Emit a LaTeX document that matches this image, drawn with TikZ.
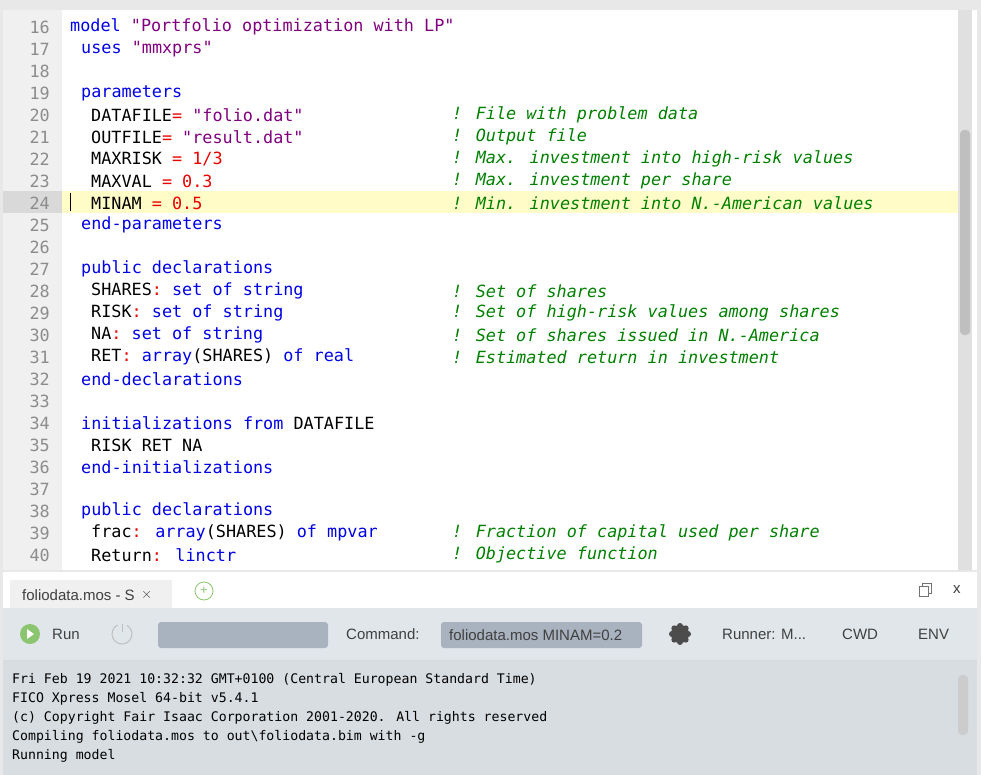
\documentclass[tikz,border=0pt]{standalone}
\usepackage{fontspec}
\setmainfont{Liberation Sans}
\newfontfamily\codefont{DejaVu Sans Mono}
\usetikzlibrary{positioning}
\definecolor{kwblue}{RGB}{0,0,230}
\definecolor{strpurple}{RGB}{128,0,128}
\definecolor{numred}{RGB}{235,0,0}
\definecolor{cmgreen}{RGB}{0,128,0}
\definecolor{guttergray}{RGB}{240,240,240}
\definecolor{barblue}{RGB}{225,230,234}
\definecolor{boxgray}{RGB}{168,179,191}
\definecolor{rungreen}{RGB}{140,197,111}
\newcommand{\kw}[1]{\textcolor{kwblue}{#1}}
\newcommand{\str}[1]{\textcolor{strpurple}{#1}}
\newcommand{\nm}[1]{\textcolor{numred}{#1}}
\newcommand{\cm}[1]{\textcolor{cmgreen}{\itshape #1}}
\tikzset{
	codeline/.style = {anchor=west, inner sep=0pt, yshift=-2pt, font=\codefont\fontsize{16.8}{18}\selectfont},
	lnum/.style = {anchor=east, inner sep=0pt, yshift=-2pt, text=black!45, font=\codefont\fontsize{16.8}{18}\selectfont},
	conline/.style = {anchor=west, inner sep=0pt, font=\codefont\fontsize{13.2}{15}\selectfont},
	uitext/.style = {anchor=west, inner sep=0pt, font=\fontsize{15}{17}\selectfont, text=black!75}
}
\begin{document}
\begin{tikzpicture}[x=1pt,y=-1pt]
	\useasboundingbox (0,0) rectangle (981,775);
	% editor background
	\fill [black!9] (0,0) rectangle (981,775);
	\fill [guttergray] (3,10) rectangle (62,570);
	\fill [white] (62,10) rectangle (977,570);
	\fill [yellow!22] (62,191) rectangle (958,213);
	\fill [black!15] (3,191) rectangle (62,213);
	\draw [line width=1pt] (70,193) -- (70,211);
	\fill [black!12] (958,10) rectangle (972,570);
	\fill [black!25, rounded corners=4pt] (960,130) rectangle (970,335);
	
	% line numbers
	\foreach \n in {16,...,40}
		\node [lnum] (n\n) at (50,{25+(\n-16)*22}) {\n};
	
	% code
	\node [codeline] (l16) at (70,25) {\kw{model} \str{"Portfolio optimization with LP"}};
	\node [codeline] (l17) at (81,47) {\kw{uses} \str{"mmxprs"}};
	\node [codeline] (l19) at (81,91) {\kw{parameters}};
	\node [codeline] (l20) at (91,113) {DATAFILE\nm{=} \str{"folio.dat"}};
	\node [codeline] (l21) at (91,135) {OUTFILE\nm{=} \str{"result.dat"}};
	\node [codeline] (l22) at (91,157) {MAXRISK \nm{= 1/3}};
	\node [codeline] (l23) at (91,179) {MAXVAL \nm{= 0.3}};
	\node [codeline] (l24) at (91,201) {MINAM \nm{= 0.5}};
	\node [codeline] (l25) at (81,223) {\kw{end-parameters}};
	\node [codeline] (l27) at (81,267) {\kw{public declarations}};
	\node [codeline] (l28) at (91,289) {SHARES\nm{:} \kw{set of string}};
	\node [codeline] (l29) at (91,311) {RISK\nm{:} \kw{set of string}};
	\node [codeline] (l30) at (91,333) {NA\nm{:} \kw{set of string}};
	\node [codeline] (l31) at (91,355) {RET\nm{:} \kw{array}(SHARES) \kw{of real}};
	\node [codeline] (l32) at (81,377) {\kw{end-declarations}};
	\node [codeline] (l34) at (81,421) {\kw{initializations from} DATAFILE};
	\node [codeline] (l35) at (91,443) {RISK RET NA};
	\node [codeline] (l36) at (81,465) {\kw{end-initializations}};
	\node [codeline] (l38) at (81,509) {\kw{public declarations}};
	\node [codeline] (l39) at (91,531) {frac\nm{:} \kw{array}(SHARES) \kw{of mpvar}};
	\node [codeline] (l40) at (91,553) {Return\nm{:} \kw{linctr}};
	
	% comments
	\node [codeline] (c20) at (452,113) {\cm{! File with problem data}};
	\node [codeline] (c21) at (452,135) {\cm{! Output file}};
	\node [codeline] (c22) at (452,157) {\cm{! Max. investment into high-risk values}};
	\node [codeline] (c23) at (452,179) {\cm{! Max. investment per share}};
	\node [codeline] (c24) at (452,201) {\cm{! Min. investment into N.-American values}};
	\node [codeline] (c28) at (452,289) {\cm{! Set of shares}};
	\node [codeline] (c29) at (452,311) {\cm{! Set of high-risk values among shares}};
	\node [codeline] (c30) at (452,333) {\cm{! Set of shares issued in N.-America}};
	\node [codeline] (c31) at (452,355) {\cm{! Estimated return in investment}};
	\node [codeline] (c39) at (452,531) {\cm{! Fraction of capital used per share}};
	\node [codeline] (c40) at (452,553) {\cm{! Objective function}};
	
	% tab bar
	\fill [white] (3,572) rectangle (977,608);
	\fill [guttergray] (10,580) rectangle (172,608);
	\node [uitext] (tab) at (22,595) {foliodata.mos - S};
	\node [uitext, right=6pt of tab] (tabx) {$\times$};
	\draw [rungreen, line width=0.8pt] (204,591) circle (9);
	\node [text=rungreen, font=\fontsize{13}{13}\selectfont, inner sep=0pt] (plus) at (204,591) {+};
	\draw [black!55, line width=0.8pt] (919,586) rectangle (928,596) (922,586) -- (922,583) -- (931,583) -- (931,593) -- (928,593);
	\node [uitext] (close) at (953,590) {x};
	
	% toolbar
	\fill [barblue] (3,608) rectangle (977,660);
	\fill [rungreen] (30,634) circle (10);
	\fill [white] (27,629) -- (34,634) -- (27,639) -- cycle;
	\node [uitext] (run) at (52,634) {Run};
	\draw [black!25, line width=1pt] (122,634) ++(115:10pt) arc[start angle=115, end angle=420, radius=10pt];
	\draw [black!25, line width=1pt] (122,634) ++(90:10pt) -- ++(0,8);
	\fill [boxgray, rounded corners=3pt] (158,622) rectangle (328,648);
	\node [uitext] (cmdlab) at (346,634) {Command:};
	\fill [boxgray, rounded corners=3pt] (441,622) rectangle (642,648);
	\node [uitext] (cmd) at (449,635) {foliodata.mos MINAM=0.2};
	\fill [black!70] (680,634) circle (9);
	\foreach \a in {0,45,...,315}
		\fill [black!70] (680,634) ++(\a:8) circle (3);
	\node [uitext] (runner) at (722,634) {Runner: M...};
	\node [uitext] (cwd) at (842,634) {CWD};
	\node [uitext] (env) at (918,634) {ENV};
	
	% console
	\fill [black!4!barblue] (3,660) rectangle (977,775);
	\draw [black!15] (3,660) -- (977,660);
	\fill [black!20, rounded corners=4pt] (958,675) rectangle (968,735);
	\node [conline] (o1) at (12,680) {Fri Feb 19 2021 10:32:32 GMT+0100 (Central European Standard Time)};
	\node [conline] (o2) at (12,699) {FICO Xpress Mosel 64-bit v5.4.1};
	\node [conline] (o3) at (12,718) {(c) Copyright Fair Isaac Corporation 2001-2020. All rights reserved};
	\node [conline] (o4) at (12,737) {Compiling foliodata.mos to out\textbackslash foliodata.bim with -g};
	\node [conline] (o5) at (12,756) {Running model};
\end{tikzpicture}
\end{document}
